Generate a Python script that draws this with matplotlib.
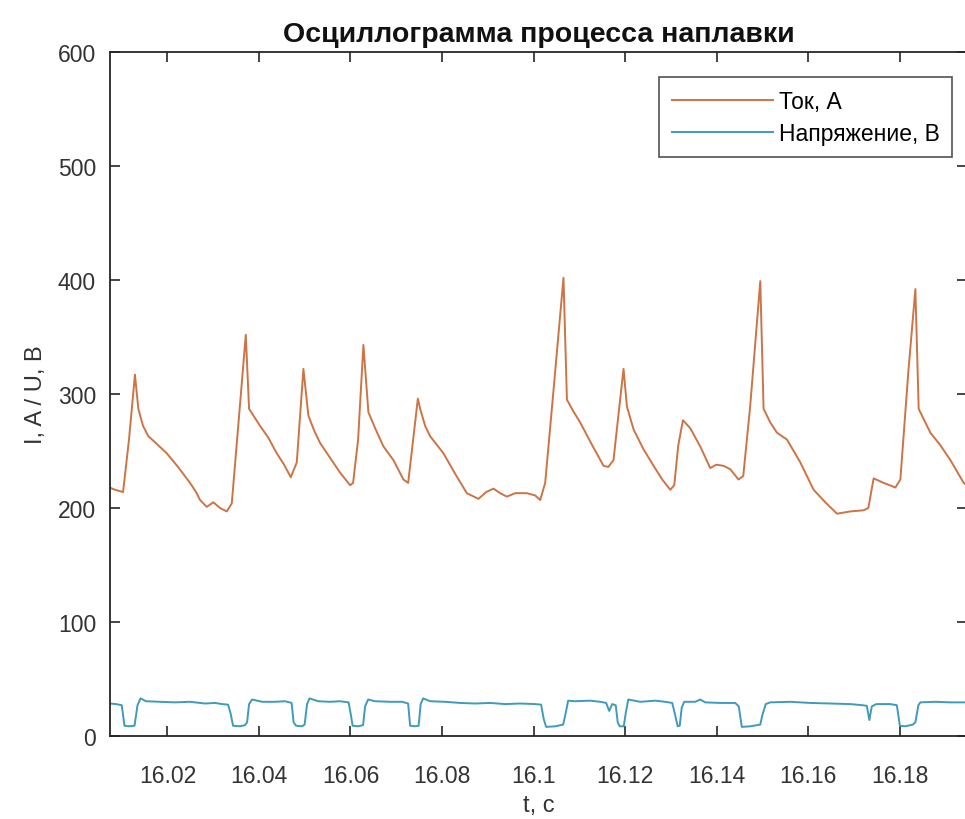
import matplotlib
matplotlib.use('Agg')
import matplotlib.pyplot as plt

plt.rcParams['font.family'] = ['Liberation Sans', 'DejaVu Sans']

TITLE = 'Осциллограмма процесса наплавки'
XLABEL = 't, c'
YLABEL = 'I, A / U, B'
LEGENDS = ['Ток, А', 'Напряжение, В']
XTICKS = [16.02, 16.04, 16.06, 16.08, 16.10, 16.12, 16.14, 16.16, 16.18]
XTICKLABELS = ['16.02', '16.04', '16.06', '16.08', '16.1', '16.12', '16.14', '16.16', '16.18']
YTICKS = [0, 100, 200, 300, 400, 500, 600]

# current
t_current = [16.00734, 16.00855, 16.01030, 16.01160, 16.01290, 16.01364, 16.01467, 16.01582,
             16.01773, 16.01985, 16.02232, 16.02494, 16.02625, 16.02713, 16.02859, 16.03003,
             16.03150, 16.03296, 16.03406, 16.03543, 16.03712, 16.03784, 16.04024, 16.04199,
             16.04389, 16.04549, 16.04695, 16.04826, 16.04971, 16.05080, 16.05205, 16.05336,
             16.05554, 16.05773, 16.05992, 16.06057, 16.06166, 16.06282, 16.06391, 16.06538,
             16.06720, 16.06938, 16.07157, 16.07260, 16.07369, 16.07472, 16.07522, 16.07631,
             16.07740, 16.08031, 16.08287, 16.08542, 16.08796, 16.08964, 16.09124, 16.09270,
             16.09417, 16.09600, 16.09854, 16.10036, 16.10145, 16.10254, 16.10451, 16.10654,
             16.10729, 16.10867, 16.11019, 16.11282, 16.11529, 16.11632, 16.11747, 16.11850,
             16.11966, 16.12040, 16.12185, 16.12396, 16.12622, 16.12812, 16.12987, 16.13074,
             16.13162, 16.13264, 16.13424, 16.13642, 16.13861, 16.13992, 16.14152, 16.14298,
             16.14479, 16.14582, 16.14735, 16.14954, 16.15026, 16.15173, 16.15319, 16.15538,
             16.15829, 16.16119, 16.16375, 16.16631, 16.16922, 16.17212, 16.17315, 16.17431,
             16.17650, 16.17906, 16.18015, 16.18190, 16.18343, 16.18415, 16.18671, 16.18890,
             16.19108, 16.19399, 16.19500]
current = [218, 216, 214, 260, 317, 287, 272, 263,
           256, 248, 236, 222, 214, 207, 201, 205,
           200, 197, 204, 270, 352, 287, 272, 262,
           248, 238, 227, 240, 322, 281, 268, 257,
           244, 231, 220, 222, 260, 343, 284, 270,
           254, 242, 225, 222, 260, 296, 287, 272,
           263, 248, 230, 213, 208, 214, 217, 213,
           210, 213, 213, 211, 207, 222, 310, 402,
           295, 285, 275, 255, 237, 236, 242, 280,
           322, 289, 269, 252, 237, 225, 216, 220,
           255, 277, 270, 254, 235, 238, 237, 234,
           225, 228, 290, 399, 287, 275, 266, 260,
           240, 216, 205, 195, 197, 198, 200, 226,
           222, 218, 225, 320, 392, 287, 266, 255,
           242, 222, 219]

# voltage
t_voltage = [16.00734, 16.00876, 16.01001, 16.01062, 16.01161, 16.01281, 16.01346, 16.01412,
             16.01532, 16.01838, 16.02166, 16.02494, 16.02822, 16.03041, 16.03193, 16.03325,
             16.03379, 16.03434, 16.03587, 16.03696, 16.03740, 16.03784, 16.03849, 16.04068,
             16.04352, 16.04570, 16.04713, 16.04757, 16.04811, 16.04942, 16.04997, 16.05051,
             16.05106, 16.05292, 16.05554, 16.05773, 16.05959, 16.06002, 16.06046, 16.06166,
             16.06275, 16.06319, 16.06385, 16.06538, 16.06866, 16.07128, 16.07259, 16.07303,
             16.07412, 16.07489, 16.07533, 16.07587, 16.07740, 16.08068, 16.08396, 16.08724,
             16.09052, 16.09379, 16.09707, 16.10035, 16.10166, 16.10221, 16.10275, 16.10472,
             16.10647, 16.10702, 16.10756, 16.10909, 16.11237, 16.11456, 16.11587, 16.11653,
             16.11718, 16.11795, 16.11839, 16.11883, 16.11970, 16.12014, 16.12069, 16.12331,
             16.12659, 16.12877, 16.13030, 16.13084, 16.13150, 16.13194, 16.13238, 16.13292,
             16.13533, 16.13642, 16.13751, 16.14080, 16.14407, 16.14484, 16.14550, 16.14735,
             16.14954, 16.14998, 16.15074, 16.15173, 16.15610, 16.16047, 16.16484, 16.16921,
             16.17184, 16.17282, 16.17337, 16.17391, 16.17490, 16.17796, 16.17938, 16.18004,
             16.18124, 16.18288, 16.18343, 16.18408, 16.18452, 16.18780, 16.19108, 16.19500]
voltage = [28.5, 28, 27, 9, 8.5, 9, 27, 33,
           30.5, 30, 29.5, 30, 28.5, 29, 28, 27.5,
           20, 9, 8.5, 9.5, 12, 28, 32, 30,
           30, 30.5, 29, 12, 9, 8.5, 10, 28,
           33, 30.5, 30, 30.5, 29.5, 20, 9, 8.5,
           9.5, 26, 32, 30.5, 30, 30, 28.5, 9,
           8.5, 9, 28, 33, 30.5, 30, 29, 28.5,
           29, 28, 28.5, 28, 27.5, 15, 8, 8.5,
           10, 20, 31, 30.5, 31, 30, 29, 22,
           28, 27, 12, 8.5, 8.5, 20, 32, 30,
           31, 30, 29, 20, 8.5, 9, 25, 30,
           30, 32, 29.5, 29, 29, 26, 8, 8.5,
           10, 18, 28, 29.5, 30, 29, 28.5, 28,
           27, 26.5, 14, 26, 28, 28, 27, 9,
           8.5, 10, 12, 27, 29.5, 30, 29.5, 29.5]

fig = plt.figure(figsize=(9.65, 8.2), dpi=100)
ax = fig.add_axes([110 / 965, 83 / 820, 857 / 965, 684 / 820])

ax.plot(t_current, current, color='#CC7446', linewidth=1.4, label=LEGENDS[0])
ax.plot(t_voltage, voltage, color='#3E9BBB', linewidth=1.4, label=LEGENDS[1])

ax.set_xlim(16.00745, 16.19471)
ax.set_ylim(0, 600)
ax.set_xticks(XTICKS)
ax.set_xticklabels(XTICKLABELS)
ax.set_yticks(YTICKS)
ax.tick_params(direction='in', length=7, width=1.2, colors='#262626', labelcolor='#333333',
               labelsize=16.5, top=True, right=True)
ax.tick_params(axis='x', pad=20)
ax.tick_params(axis='y', pad=10)
for sp in ax.spines.values():
    sp.set_linewidth(1.3)
    sp.set_color('#262626')

ax.set_title(TITLE, fontsize=20.5, fontweight='bold', color='#111111', pad=8)
ax.set_xlabel(XLABEL, fontsize=17, color='#333333', labelpad=5)
ax.set_ylabel(YLABEL, fontsize=17, color='#333333', labelpad=8)

leg = ax.legend(loc='upper right', bbox_to_anchor=(952 / 965, 1 - 78 / 820),
                bbox_transform=fig.transFigure, borderaxespad=0, fontsize=16.5,
                frameon=True, fancybox=False, edgecolor='#262626', handlelength=4.4,
                borderpad=0.55, labelspacing=0.4, handletextpad=0.25)
leg.get_frame().set_linewidth(1.2)

fig.savefig('out.png', dpi=100)
